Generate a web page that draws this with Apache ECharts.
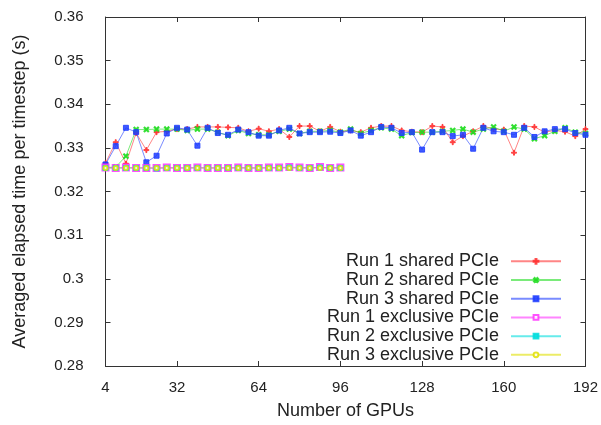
<!DOCTYPE html>
<html>
<head>
    <meta charset="utf-8">
    <title>GPU timestep</title>
    <script src="https://cdn.jsdelivr.net/npm/echarts@6/dist/echarts.min.js"></script>
    <style>
        * { margin: 0; padding: 0 }
        #main { width: 601px; height: 425px; background: #fff; }
    </style>
</head>
<body>
    <div id="main"></div>
    <script type="text/javascript">
        // number of GPUs
        var gpus = [4, 8, 12, 16, 20, 24, 28, 32, 36, 40, 44, 48, 52, 56, 60, 64,
            68, 72, 76, 80, 84, 88, 92, 96, 100, 104, 108, 112, 116, 120, 124, 128,
            132, 136, 140, 144, 148, 152, 156, 160, 164, 168, 172, 176, 180, 184, 188, 192];
        var xTicks = [4, 32, 64, 96, 128, 160, 192];

        // shared PCIe runs (48 points)
        var run1Shared = [0.3265, 0.3313, 0.3264, 0.3334, 0.3295, 0.3336, 0.3338, 0.3343,
            0.3343, 0.3348, 0.3348, 0.3348, 0.3347, 0.3346, 0.3338, 0.3344,
            0.3338, 0.3343, 0.3325, 0.3350, 0.3350, 0.3338, 0.3348, 0.3337,
            0.3340, 0.3336, 0.3346, 0.3350, 0.3350, 0.3340, 0.3337, 0.3336,
            0.3350, 0.3348, 0.3313, 0.3327, 0.3338, 0.3350, 0.3343, 0.3342,
            0.3289, 0.3350, 0.3348, 0.3336, 0.3340, 0.3337, 0.3327, 0.3343];
        var run2Shared = [0.3255, 0.3256, 0.3281, 0.3342, 0.3342, 0.3343, 0.3343, 0.3343,
            0.3340, 0.3343, 0.3343, 0.3336, 0.3328, 0.3340, 0.3333, 0.3330,
            0.3330, 0.3338, 0.3343, 0.3333, 0.3338, 0.3338, 0.3340, 0.3336,
            0.3343, 0.3333, 0.3340, 0.3346, 0.3343, 0.3328, 0.3335, 0.3336,
            0.3336, 0.3338, 0.3340, 0.3343, 0.3336, 0.3343, 0.3348, 0.3338,
            0.3348, 0.3343, 0.3321, 0.3328, 0.3338, 0.3346, 0.3336, 0.3333];
        var run3Shared = [0.3262, 0.3304, 0.3346, 0.3336, 0.3267, 0.3282, 0.3333, 0.3346,
            0.3342, 0.3305, 0.3346, 0.3334, 0.3330, 0.3342, 0.3336, 0.3328,
            0.3328, 0.3340, 0.3346, 0.3333, 0.3336, 0.3336, 0.3337, 0.3334,
            0.3340, 0.3328, 0.3336, 0.3348, 0.3346, 0.3334, 0.3336, 0.3296,
            0.3336, 0.3336, 0.3327, 0.3330, 0.3298, 0.3346, 0.3338, 0.3336,
            0.3330, 0.3346, 0.3325, 0.3338, 0.3343, 0.3343, 0.3334, 0.3330];

        // exclusive PCIe runs (4..96 GPUs, 24 points)
        var run1Excl = [0.3255, 0.3254, 0.3255, 0.3254, 0.3254, 0.3254, 0.3255, 0.3254,
            0.3254, 0.3255, 0.3254, 0.3254, 0.3254, 0.3255, 0.3254, 0.3254,
            0.3255, 0.3255, 0.3256, 0.3255, 0.3254, 0.3256, 0.3254, 0.3255];
        var run2Excl = [0.3254, 0.3254, 0.3254, 0.3254, 0.3254, 0.3253, 0.3254, 0.3254,
            0.3254, 0.3254, 0.3254, 0.3254, 0.3254, 0.3254, 0.3254, 0.3254,
            0.3254, 0.3254, 0.3255, 0.3254, 0.3254, 0.3255, 0.3254, 0.3254];
        var run3Excl = [0.3254, 0.3254, 0.3254, 0.3254, 0.3254, 0.3254, 0.3254, 0.3254,
            0.3254, 0.3254, 0.3254, 0.3254, 0.3254, 0.3254, 0.3254, 0.3254,
            0.3254, 0.3254, 0.3254, 0.3254, 0.3254, 0.3254, 0.3254, 0.3254];

        var names = ['Run 1 shared PCIe', 'Run 2 shared PCIe', 'Run 3 shared PCIe',
            'Run 1 exclusive PCIe', 'Run 2 exclusive PCIe', 'Run 3 exclusive PCIe'];

        var FONT = 'Liberation Sans, Arial, sans-serif';
        var plus = 'path://M4,0H6V4H10V6H6V10H4V6H0V4H4Z';

        function pairs(ys) {
            return ys.map(function (y, i) { return [gpus[i], y]; });
        }

        function mk(name, ys, color, symbol, size, rotate) {
            return {
                name: name,
                type: 'line',
                data: pairs(ys),
                symbol: symbol,
                symbolSize: size,
                symbolRotate: rotate || 0,
                showSymbol: true,
                animation: false,
                lineStyle: { color: color, width: 1, opacity: 0.6 },
                itemStyle: { color: color, borderColor: color, borderWidth: 1, opacity: 0.85 },
                z: 2
            };
        }

        var myChart = echarts.init(document.getElementById('main'));

        var frameAxis = { lineStyle: { color: '#333', width: 1 } };

        var option = {
            backgroundColor: '#fff',
            animation: false,
            grid: { left: 105.5, right: 14.5, top: 17, bottom: 57 },
            legend: {
                orient: 'vertical',
                right: 39,
                top: 252,
                align: 'right',
                padding: 0,
                itemGap: 0,
                itemWidth: 50,
                itemHeight: 6,
                data: names,
                textStyle: {
                    fontFamily: FONT, fontSize: 18, color: '#222',
                    lineHeight: 18.7, padding: [0, 7, 0, 0]
                }
            },
            xAxis: [{
                type: 'value',
                min: 4, max: 192,
                name: 'Number of GPUs',
                nameLocation: 'middle',
                nameGap: 36,
                nameTextStyle: { fontFamily: FONT, fontSize: 18, color: '#222' },
                axisLine: frameAxis,
                axisTick: { inside: true, length: 5, customValues: xTicks, lineStyle: { color: '#333' } },
                axisLabel: { customValues: xTicks, fontFamily: FONT, fontSize: 15, color: '#222', margin: 14 },
                splitLine: { show: false }
            }, {
                type: 'value',
                position: 'top',
                min: 4, max: 192,
                axisLine: frameAxis,
                axisTick: { inside: true, length: 5, customValues: xTicks, lineStyle: { color: '#333' } },
                axisLabel: { show: false },
                splitLine: { show: false }
            }],
            yAxis: [{
                type: 'value',
                min: 0.28, max: 0.36, interval: 0.01,
                name: 'Averaged elapsed time per timestep (s)',
                nameLocation: 'middle',
                nameGap: 76,
                nameTextStyle: { fontFamily: FONT, fontSize: 18, color: '#222' },
                axisLine: { show: true, lineStyle: { color: '#333', width: 1 } },
                axisTick: { show: true, inside: true, length: 5, lineStyle: { color: '#333' } },
                axisLabel: { fontFamily: FONT, fontSize: 15, color: '#222', margin: 22 },
                splitLine: { show: false }
            }, {
                type: 'value',
                position: 'right',
                min: 0.28, max: 0.36, interval: 0.01,
                axisLine: { show: true, lineStyle: { color: '#333', width: 1 } },
                axisTick: { show: true, inside: true, length: 5, lineStyle: { color: '#333' } },
                axisLabel: { show: false },
                splitLine: { show: false }
            }],
            series: [
                mk(names[0], run1Shared, '#ff3333', plus, 5, 0),
                mk(names[1], run2Shared, '#22dd22', plus, 6, 45),
                mk(names[2], run3Shared, '#1f3dff', 'rect', 5, 0),
                mk(names[3], run1Excl, '#ff33ff', 'emptyRect', 6, 0),
                mk(names[4], run2Excl, '#00dddd', 'rect', 5, 0),
                mk(names[5], run3Excl, '#e0e000', 'emptyCircle', 4, 0)
            ]
        };

        myChart.setOption(option);
    </script>
</body>
</html>
